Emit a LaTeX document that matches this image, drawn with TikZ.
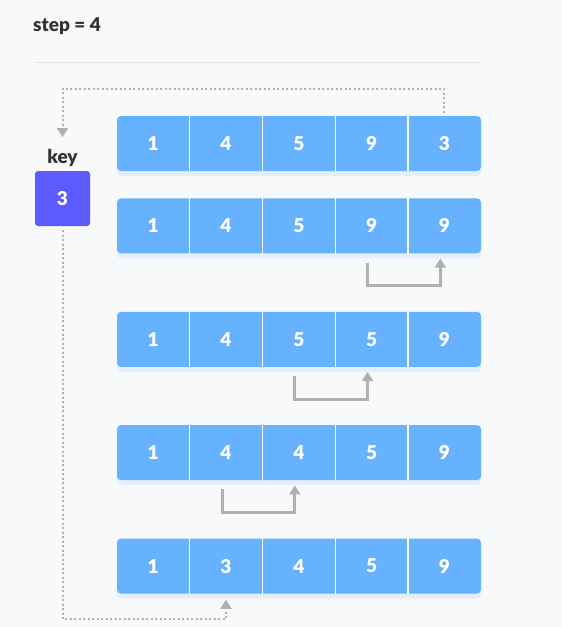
\documentclass[tikz,border=0pt]{standalone}
\usepackage{fontspec}
\setmainfont{Lato}[BoldFont={Lato Black}]
\usetikzlibrary{positioning,arrows.meta,shadows}
\definecolor{bgc}{RGB}{248,249,251}
\definecolor{cellc}{RGB}{102,178,255}
\definecolor{keyc}{RGB}{91,91,255}
\definecolor{txtc}{RGB}{51,51,51}
\definecolor{arrc}{RGB}{176,176,176}
\definecolor{shc}{RGB}{229,238,252}
\definecolor{linec}{RGB}{225,227,230}

\begin{document}
\begin{tikzpicture}[x=1pt, y=-1pt, node distance=27pt,
  arr/.style={rectangle, fill=cellc, rounded corners=4pt, minimum width=364pt, minimum height=55pt, drop shadow={shadow xshift=0pt, shadow yshift=-5pt, fill=shc, opacity=1}},
  num/.style={minimum width=72.8pt, minimum height=55pt, text=white, font=\fontsize{19}{22}\selectfont\bfseries},
  keybox/.style={rectangle, fill=keyc, rounded corners=3pt, minimum size=55pt, text=white, font=\fontsize{19}{22}\selectfont\bfseries},
  lbl/.style={inner sep=0pt, text=txtc, font=\fontsize{19}{22}\selectfont\bfseries},
  sep/.style={white, line width=1.2pt},
  dots/.style={arrc, line width=2pt, dash pattern=on 2pt off 2.5pt, -{Triangle[width=11pt,length=9pt]}},
  move/.style={arrc, line width=3pt, -{Triangle[width=11pt,length=9pt]}}]

    \fill[bgc] (0,0) rectangle (563,627);
    \useasboundingbox (0,0) rectangle (563,627);

    \node[lbl, anchor=base west] (title) at (33,31) {step = 4};
    \draw[linec, line width=1pt] (35,62) -- (480,62);

    \node[arr] (r1) at (299,143.5) {};
    \node[arr, below=27pt of r1] (r2) {};
    \node[arr, below=58pt of r2] (r3) {};
    \node[arr, below=58pt of r3] (r4) {};
    \node[arr, below=58pt of r4] (r5) {};

    \foreach \r/\vals in {1/{1,4,5,9,3}, 2/{1,4,5,9,9}, 3/{1,4,5,5,9}, 4/{1,4,4,5,9}, 5/{1,3,4,5,9}} {
      \foreach \v [count=\i] in \vals
        \node[num] (r\r-\i) at ([xshift={(\i-0.5)*72.8pt}]r\r.west) {\v};
      \foreach \i in {1,...,4}
        \draw[sep] ([xshift=\i*72.8pt]r\r.north west) -- ([xshift=\i*72.8pt]r\r.south west);
    }

    \node[keybox] (key) at (62.5,198.5) {3};
    \node[lbl, above=4pt of key] (keylbl) {key};

    \draw[dots] ([yshift=3pt]r1-5.north) -- ++(0,-24) -| ([yshift=12pt]keylbl.north);
    \draw[dots] ([yshift=-4pt]key.south) -- ++(0,389) -| ([yshift=-6pt]r5-2.south);

    \draw[move] ([xshift=-4pt,yshift=-9pt]r2-4.south) -- ++(0,23) -| ([xshift=-4pt,yshift=-5pt]r2-5.south);
    \draw[move] ([xshift=-4pt,yshift=-9pt]r3-3.south) -- ++(0,23) -| ([xshift=-4pt,yshift=-5pt]r3-4.south);
    \draw[move] ([xshift=-4pt,yshift=-9pt]r4-2.south) -- ++(0,23) -| ([xshift=-4pt,yshift=-5pt]r4-3.south);

  \end{tikzpicture}
\end{document}
